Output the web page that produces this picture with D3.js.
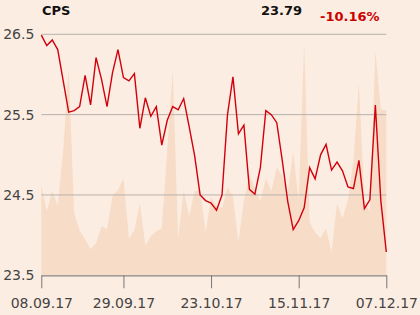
<!DOCTYPE html>
<html><head><meta charset="utf-8">
<script src="https://cdn.jsdelivr.net/npm/d3@7"></script>
<style>html,body{margin:0;padding:0;background:#FCEDE2;} svg{display:block}</style>
</head><body><svg id="c" width="420" height="315"></svg>
<script>
const ticker = "CPS";
const lastPrice = "23.79";
const change = "-10.16%";
const prices = [26.49,26.36,26.43,26.31,25.92,25.53,25.55,25.60,25.99,25.62,
  26.21,25.94,25.60,26.02,26.31,25.96,25.92,26.01,25.33,25.71,
  25.48,25.60,25.12,25.43,25.60,25.56,25.70,25.35,24.99,24.50,
  24.43,24.40,24.31,24.50,25.50,25.97,25.26,25.37,24.57,24.51,
  24.84,25.55,25.50,25.40,24.93,24.42,24.07,24.18,24.34,24.84,
  24.70,25.00,25.13,24.81,24.91,24.80,24.60,24.58,24.93,24.33,
  24.44,25.62,24.43,23.79];
const volumes = [90,64,84,70,125,207,62,45,36,26,
  32,49,46,79,85,97,37,45,72,30,
  39,44,47,125,205,37,85,59,84,85,
  43,78,69,67,88,79,33,75,100,87,
  74,97,84,108,99,83,123,75,232,53,
  43,37,47,23,72,57,75,115,192,75,
  63,224,166,165];
const yTicks = [23.5,24.5,25.5,26.5];
const gridValues = [24.5,25.5,26.5];
const xTickIndex = [0,15,31,47,63];
const xTickLabels = ["08.09.17","29.09.17","23.10.17","15.11.17","07.12.17"];

const svg = d3.select("#c");
const L = 41.3, R = 386.3, T = 34.3, B = 275.3;
const x = d3.scaleLinear().domain([0, prices.length - 1]).range([L, R]);
const y = d3.scaleLinear().domain([23.5, 26.5]).range([B, T]);
const yv = d3.scaleLinear().domain([0, 241]).range([B, T]);

// volume area
svg.append("path")
  .datum(volumes)
  .attr("fill", "#F7DCC7")
  .attr("d", d3.area().x((d,i)=>x(i)).y0(B).y1(d=>yv(d)));

// gridlines
svg.append("g").selectAll("line").data(gridValues).join("line")
  .attr("x1", L).attr("x2", R)
  .attr("y1", d=>y(d)).attr("y2", d=>y(d))
  .attr("stroke", "#B7B2AC").attr("stroke-width", 1);

// x axis
const xa = svg.append("g").attr("transform", `translate(0,${B})`)
  .call(d3.axisBottom(x).tickValues(xTickIndex)
    .tickFormat((d,i)=>xTickLabels[i]).tickSize(13).tickSizeOuter(0));
xa.select(".domain").attr("stroke", "#8a8684").attr("stroke-width", 1.2);
xa.selectAll(".tick line").attr("stroke", "#777");
xa.selectAll(".tick text").attr("y", 23).attr("fill", "#444")
  .style("font-family", "DejaVu Sans").style("font-size", "14px");

// y axis labels
const ya = svg.append("g").attr("transform", `translate(${L},0)`)
  .call(d3.axisLeft(y).tickValues(yTicks).tickFormat(d3.format(".1f"))
    .tickSize(0).tickPadding(7));
ya.select(".domain").remove();
ya.selectAll(".tick text").attr("fill", "#444")
  .style("font-family", "DejaVu Sans").style("font-size", "14px");

// price line
svg.append("path")
  .datum(prices)
  .attr("fill", "none")
  .attr("stroke", "#D2000C")
  .attr("stroke-width", 1.4)
  .attr("stroke-linejoin", "miter")
  .attr("d", d3.line().x((d,i)=>x(i)).y(d=>y(d)));

// header
svg.append("text").attr("x", 42).attr("y", 15).text(ticker)
  .attr("font-family", "DejaVu Sans").attr("font-weight", "bold")
  .attr("font-size", 13).attr("fill", "#111");
svg.append("text").attr("x", 302).attr("y", 15).attr("text-anchor", "end").text(lastPrice)
  .attr("font-family", "DejaVu Sans").attr("font-weight", "bold")
  .attr("font-size", 13).attr("fill", "#111");
svg.append("text").attr("x", 320).attr("y", 21).text(change)
  .attr("font-family", "DejaVu Sans").attr("font-weight", "bold")
  .attr("font-size", 13).attr("fill", "#CC0000");
</script>
</body></html>
